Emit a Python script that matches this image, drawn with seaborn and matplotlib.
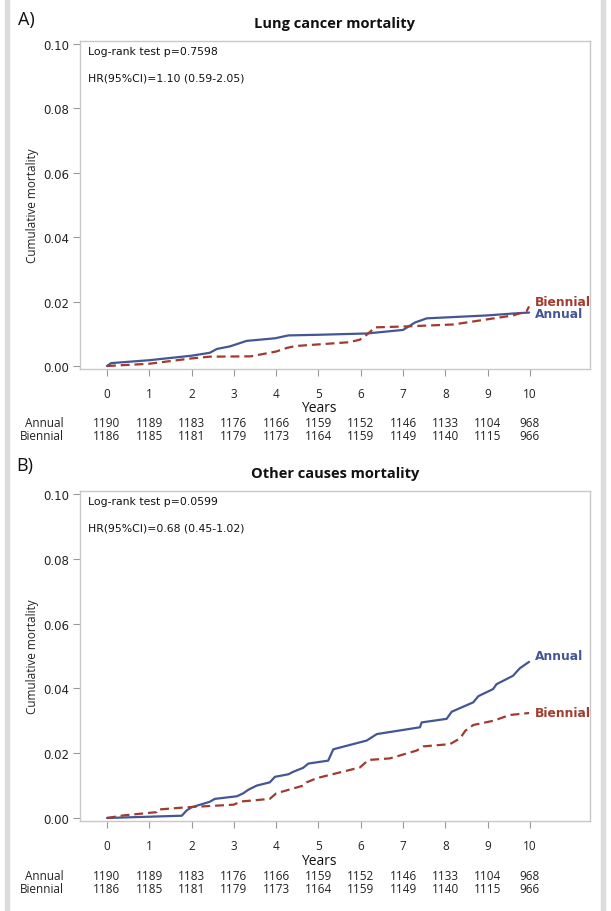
import numpy as np
import pandas as pd
import matplotlib
matplotlib.use("Agg")
import matplotlib.pyplot as plt
import seaborn as sns

# ---------------- data ----------------
years_ticks = list(range(0, 11))

a_ann_x = [0, 0.1, 1.0, 2.0, 2.43, 2.6, 2.91, 3.3, 3.97, 4.29, 5.0, 6.14, 7.0, 7.28, 7.56, 8.98, 9.6, 9.98]
a_ann_y = [0, 0.0009, 0.0018, 0.0032, 0.0041, 0.0053, 0.0061, 0.0078, 0.0086, 0.0095, 0.0097, 0.0101, 0.0112, 0.0135, 0.0148, 0.0157, 0.0163, 0.0166]
a_bie_x = [0, 1.0, 1.96, 2.43, 3.4, 4.0, 4.25, 4.45, 5.74, 5.98, 6.14, 6.34, 7.09, 8.19, 9.6, 9.92, 9.98]
a_bie_y = [0, 0.0007, 0.0023, 0.0029, 0.0030, 0.0045, 0.0056, 0.0062, 0.0074, 0.0082, 0.0097, 0.0120, 0.0123, 0.0129, 0.0157, 0.0170, 0.0185]

b_ann_x = [0, 1.77, 1.88, 2.0, 2.43, 2.55, 3.07, 3.22, 3.34, 3.54, 3.85, 3.97, 4.29, 4.41, 4.64, 4.76, 5.23, 5.35,
           6.14, 6.38, 7.4, 7.44, 8.03, 8.15, 8.66, 8.78, 9.13, 9.21, 9.6, 9.76, 9.98]
b_ann_y = [0, 0.0007, 0.0023, 0.0033, 0.005, 0.0059, 0.0067, 0.0076, 0.0087, 0.0100, 0.0110, 0.0127, 0.0135, 0.0143,
           0.0155, 0.0168, 0.0177, 0.0212, 0.0239, 0.0259, 0.0280, 0.0295, 0.0306, 0.0328, 0.0357, 0.0376, 0.0398,
           0.0413, 0.0439, 0.0462, 0.0482]
b_bie_x = [0, 0.39, 1.17, 1.2, 1.88, 2.99, 3.18, 3.85, 4.0, 4.64, 4.72, 4.96, 5.98, 6.18, 6.69, 7.32, 7.48, 8.11,
           8.35, 8.47, 8.66, 9.13, 9.53, 9.98]
b_bie_y = [0, 0.0008, 0.0018, 0.0026, 0.0033, 0.0041, 0.0051, 0.0059, 0.0076, 0.0100, 0.0110, 0.0123, 0.0156,
           0.0179, 0.0184, 0.0208, 0.0221, 0.0228, 0.0246, 0.0269, 0.0287, 0.0300, 0.0318, 0.0324]

annual_risk = [1190, 1189, 1183, 1176, 1166, 1159, 1152, 1146, 1133, 1104, 968]
biennial_risk = [1186, 1185, 1181, 1179, 1173, 1164, 1159, 1149, 1140, 1115, 966]

titles = ["Lung cancer mortality", "Other causes mortality"]
panel_tags = ["A)", "B)"]
stats_p = ["Log-rank test p=0.7598", "Log-rank test p=0.0599"]
stats_hr = ["HR(95%CI)=1.10 (0.59-2.05)", "HR(95%CI)=0.68 (0.45-1.02)"]
groups = ["Annual", "Biennial"]

BLUE = "#445694"
RED = "#A23A2E"

sns.set_theme(style="white")
plt.rcParams['font.family'] = ['Open Sans', 'DejaVu Sans']

W, H = 611, 912
fig = plt.figure(figsize=(W / 100, H / 100), dpi=100)

def px_axes(left, top, right, bottom):
    return fig.add_axes([left / W, 1 - bottom / H, (right - left) / W, (bottom - top) / H])

# grey frame strips
for xs in (5, 601):
    fig.patches.append(plt.Rectangle((xs / W, 0), 4 / W, 1, transform=fig.transFigure,
                                     color="#dcdcdc", zorder=0))

panels = [
    dict(ax=px_axes(80, 42, 590, 370), ann=(a_ann_x, a_ann_y), bie=(a_bie_x, a_bie_y),
         lab_y_ann=0.0162, lab_y_bie=0.0200),
    dict(ax=px_axes(80, 492, 590, 822), ann=(b_ann_x, b_ann_y), bie=(b_bie_x, b_bie_y),
         lab_y_ann=0.0500, lab_y_bie=0.0327),
]

for i, p in enumerate(panels):
    ax = p["ax"]
    df = pd.concat([
        pd.DataFrame({"Years": p["ann"][0], "mort": p["ann"][1], "group": "Annual"}),
        pd.DataFrame({"Years": p["bie"][0], "mort": p["bie"][1], "group": "Biennial"}),
    ])
    sns.lineplot(data=df, x="Years", y="mort", hue="group", style="group",
                 palette={"Annual": BLUE, "Biennial": RED},
                 dashes={"Annual": "", "Biennial": (4, 2.2)},
                 estimator=None, sort=True, linewidth=1.6, legend=False, ax=ax)
    ax.set_xlim(-0.638, 11.42)
    ax.set_ylim(-0.00093, 0.10093)
    ax.set_xticks(years_ticks)
    ax.set_xticklabels([str(t) for t in years_ticks], fontsize=8.5, color="#222222")
    ax.set_yticks([0, 0.02, 0.04, 0.06, 0.08, 0.10])
    ax.set_yticklabels(["0.00", "0.02", "0.04", "0.06", "0.08", "0.10"],
                       fontsize=8.5, color="#222222", family="DejaVu Sans")
    ax.tick_params(axis="both", which="both", length=5, width=0.8, color="#999999",
                   direction="out", bottom=True, left=True)
    ax.tick_params(axis="x", pad=8)
    ax.tick_params(axis="y", pad=3)
    for s in ax.spines.values():
        s.set_color("#c8c8c8")
        s.set_linewidth(1.0)
    ax.set_xlabel("")
    ax.set_ylabel("Cumulative mortality", fontsize=8.5, color="#222222", labelpad=3)
    ax.set_title(titles[i], fontsize=10.5, fontweight="bold", color="#111111", pad=10)

    # stats text
    ax.text(0.016, 0.985, stats_p[i], transform=ax.transAxes, ha="left", va="top",
            fontsize=7.8, color="#111111", family="Liberation Sans Narrow")
    ax.text(0.016, 0.905, stats_hr[i], transform=ax.transAxes, ha="left", va="top",
            fontsize=7.8, color="#111111", family="Liberation Sans Narrow")

    # end labels
    ax.text(10.12, p["lab_y_ann"], "Annual", color=BLUE, fontsize=8.8, fontweight="bold",
            ha="left", va="center", family="DejaVu Sans")
    ax.text(10.12, p["lab_y_bie"], "Biennial", color=RED, fontsize=8.8, fontweight="bold",
            ha="left", va="center", family="DejaVu Sans")

    # axis label + at-risk table
    bh = 328.0
    trans = matplotlib.transforms.blended_transform_factory(ax.transData, ax.transAxes)
    ax.text(5, -39 / bh, "Years", transform=trans, ha="center", va="center",
            fontsize=10, color="#111111")
    for j, t in enumerate(years_ticks):
        ax.text(t, -54 / bh, str(annual_risk[j]), transform=trans, ha="center", va="center",
                fontsize=8.5, color="#222222")
        ax.text(t, -67 / bh, str(biennial_risk[j]), transform=trans, ha="center", va="center",
                fontsize=8.5, color="#222222")
    ax.text(-16 / 510, -54 / bh, "Annual", transform=ax.transAxes, ha="right", va="center",
            fontsize=8.5, color="#222222")
    ax.text(-16 / 510, -67 / bh, "Biennial", transform=ax.transAxes, ha="right", va="center",
            fontsize=8.5, color="#222222")

# panel tags
fig.text(18 / W, 1 - 20 / H, panel_tags[0], fontsize=13, ha="left", va="center", color="#111111")
fig.text(16 / W, 1 - 466 / H, panel_tags[1], fontsize=13, ha="left", va="center", color="#111111")

fig.savefig("out.png", dpi=100, facecolor="white")
